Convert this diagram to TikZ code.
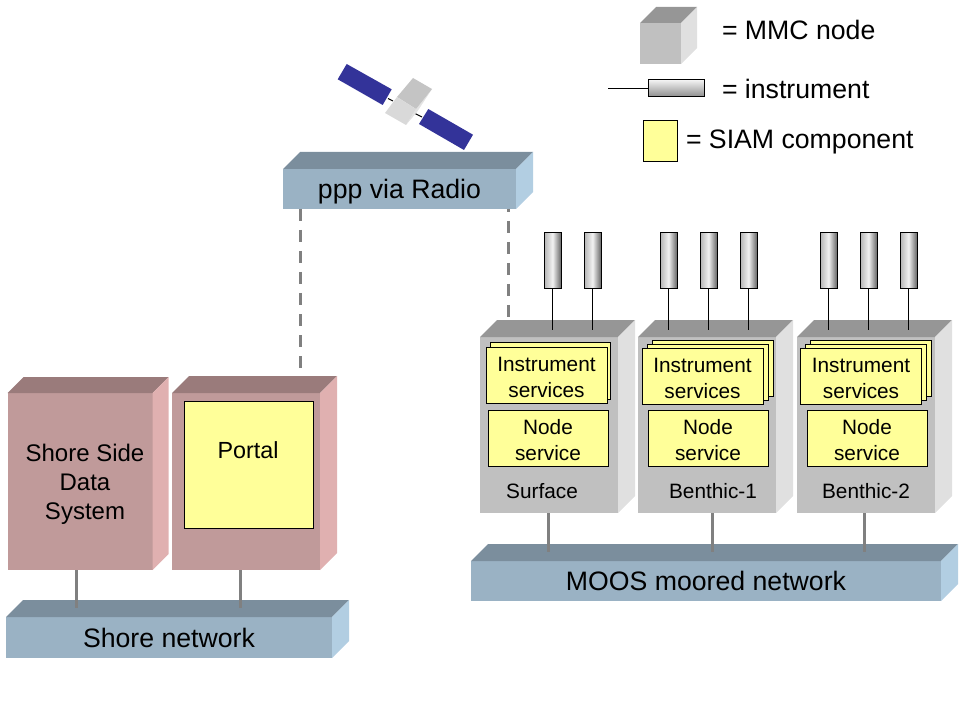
\documentclass[tikz,border=0pt]{standalone}
\usepackage{fontspec}
\setmainfont{Liberation Sans}
\usetikzlibrary{calc}

\definecolor{siamyellow}{HTML}{FFFF99}
\definecolor{mmcfront}{HTML}{C0C0C0}
\definecolor{mmctop}{HTML}{969696}
\definecolor{mmcside}{HTML}{E0E0E0}
\definecolor{shorefront}{HTML}{C09A9A}
\definecolor{shoretop}{HTML}{9A7B7B}
\definecolor{shoreside}{HTML}{E0B0B0}
\definecolor{netfront}{HTML}{9AB2C4}
\definecolor{nettop}{HTML}{7B8E9D}
\definecolor{netside}{HTML}{B2CEE2}
\definecolor{panelblue}{HTML}{333399}

\tikzset{
  size/.style n args={2}{minimum width=#1*0.75pt,minimum height=#2*0.75pt},
  every node/.style={inner sep=0pt,outer sep=0pt},
  mmcbox/.style={fill=mmcfront},
  shorebox/.style={fill=shorefront},
  netbox/.style={fill=netfront,text depth=0pt,font=\fontsize{20}{24}\selectfont},
  siam/.style={draw=black,line width=0.75pt,fill=siamyellow,align=center,
    font=\fontsize{15.6}{19.2}\selectfont},
  siamtext/.style={text height=33.4pt},
  label/.style={font=\fontsize{15.6}{19.2}\selectfont},
  legend/.style={anchor=west,font=\fontsize{20}{24}\selectfont},
  instr/.style={draw=black,line width=0.75pt,left color=gray!60,right color=gray!80!black,
    middle color=gray!10,size={17}{56}},
  wire/.style={black,line width=0.75pt},
  link/.style={color=gray,line width=2.25pt},
  radiolink/.style={color=gray,line width=2.25pt,dash pattern=on 9pt off 6.75pt},
}

% top and side faces behind a front node
\newcommand{\faces}[4]{
\fill [#3] (#1.north west) -- ++(#2,-#2) -- ($(#1.north east)+(#2,-#2)$) -- (#1.north east) -- cycle;
\fill [#4] (#1.north east) -- ++(#2,-#2) -- ($(#1.south east)+(#2,-#2)$) -- (#1.south east) -- cycle;
}

\begin{document}
\begin{tikzpicture}[x=0.75pt,y=-0.75pt]
\useasboundingbox (0,0) rectangle (960,720);

% legend
\node [mmcbox,size={41}{41}] (legendcube) at (660.5,43.5) {};
\faces{legendcube}{16}{mmctop}{mmcside}
\node [legend] (legendmmc) at (722,30) {= MMC node};
\node [draw=black,line width=0.75pt,top color=gray!10,bottom color=gray!90,size={56}{17}] (legendinstr) at (676,88.5) {};
\coordinate (legendwire) at (608,88.5);
\draw [wire] (legendwire) -- (legendinstr.west);
\node [legend] (legendinstrtext) at (722,89) {= instrument};
\node [siam,size={34}{41}] (legendsiam) at (660,141.5) {};
\node [legend] (legendsiamtext) at (686,142) {= SIAM component};

% satellite
\fill [panelblue] (346.7,64) -- (391.7,89.3) -- (382.7,105) -- (337.7,79.3) -- cycle;
\fill [panelblue] (428.3,109) -- (473,134.7) -- (464,150) -- (419,124) -- cycle;
\draw [wire] (388,98.5) -- (393,101);
\draw [wire] (415,113.5) -- (422,117);
\fill [gray!22] (432,89) -- (416,109) -- (406,125) -- (417,112) -- cycle;
\fill [gray!46] (413,78) -- (432,89) -- (416,109) -- (397,97) -- cycle;
\fill [gray!30] (397,97) -- (416,109) -- (406,125) -- (385,113) -- cycle;

% radio link
\node [netbox,size={233}{40}] (radio) at (399.5,189) {ppp via Radio};
\faces{radio}{17}{nettop}{netside}
\coordinate (portalup) at (300,369);
\coordinate (surfaceup) at (508,320);
\draw [radiolink] (radio.south -| portalup) -- (portalup);
\draw [radiolink,dash phase=6.75pt] (radio.south -| surfaceup) -- (surfaceup);

% shore side
\node [shorebox,size={145}{177}] (shoredata) at (80,481.5) {};
\faces{shoredata}{16}{shoretop}{shoreside}
\node [align=center,font=\fontsize{18}{21.75}\selectfont] (shoredatatext) at (85,484) {Shore Side\\Data\hspace*{6pt}\\System};
\node [shorebox,size={148}{177}] (portalbox) at (246,481.5) {};
\faces{portalbox}{17}{shoretop}{shoreside}
\node [siam,size={129}{127}] (portalsiam) at (248.5,464.5) {};
\node [font=\fontsize{17.5}{21}\selectfont] (portaltext) at (248,450) {Portal};
\node [netbox,size={326}{41}] (shorenet) at (169,637.5) {Shore network};
\faces{shorenet}{17}{nettop}{netside}
\coordinate (shorejackA) at (76,608);
\coordinate (shorejackB) at (240,608);
\draw [link] (shorejackA |- shoredata.south) -- (shorejackA);
\draw [link] (shorejackB |- portalbox.south) -- (shorejackB);

% moored network
\node [netbox,size={470}{40}] (moosnet) at (706,581) {MOOS moored network};
\faces{moosnet}{17}{nettop}{netside}

% surface node
\node [mmcbox,size={138}{176}] (surface) at (549,425) {};
\faces{surface}{17}{mmctop}{mmcside}
\node [siam,size={120}{57}] (surfaceback) at (550,370.5) {};
\node [siam,siamtext,size={121}{56}] (surfaceinst) at (546.5,375) {Instrument\\services};
\node [siam,siamtext,size={120}{56}] (surfacenode) at (548,438) {Node\\service};
\node [label] (surfacetext) at (542,491) {Surface};
\node [instr] (surfaceA) at (552.5,261) {};
\node [instr] (surfaceB) at (592.5,261) {};
\coordinate (surfacewireA) at (552.5,330);
\coordinate (surfacewireB) at (592.5,330);
\draw [wire] (surfaceA) -- (surfacewireA);
\draw [wire] (surfaceB) -- (surfacewireB);

% benthic 1 node
\node [mmcbox,size={138}{176}] (benthicone) at (707,425) {};
\faces{benthicone}{17}{mmctop}{mmcside}
\node [siam,size={121}{56}] (benthiconeback) at (712.5,368) {};
\node [siam,size={121}{56}] (benthiconemid) at (707.5,372) {};
\node [siam,siamtext,size={121}{56}] (benthiconeinst) at (702.5,376) {Instrument\\services};
\node [siam,siamtext,size={120}{56}] (benthiconenode) at (708,438) {Node\\service};
\node [label] (benthiconetext) at (713,491) {Benthic-1};
\node [instr] (benthiconeA) at (668.5,261) {};
\node [instr] (benthiconeB) at (708.5,261) {};
\node [instr] (benthiconeC) at (748.5,261) {};
\coordinate (benthiconewireA) at (668.5,330);
\coordinate (benthiconewireB) at (708.5,330);
\coordinate (benthiconewireC) at (748.5,330);
\draw [wire] (benthiconeA) -- (benthiconewireA);
\draw [wire] (benthiconeB) -- (benthiconewireB);
\draw [wire] (benthiconeC) -- (benthiconewireC);

% benthic 2 node
\node [mmcbox,size={138}{176}] (benthictwo) at (866,425) {};
\faces{benthictwo}{17}{mmctop}{mmcside}
\node [siam,size={121}{56}] (benthictwoback) at (871,368) {};
\node [siam,size={121}{56}] (benthictwomid) at (866,372) {};
\node [siam,siamtext,size={121}{56}] (benthictwoinst) at (861,376) {Instrument\\services};
\node [siam,siamtext,size={120}{56}] (benthictwonode) at (867,438) {Node\\service};
\node [label] (benthictwotext) at (866,491) {Benthic-2};
\node [instr] (benthictwoA) at (828.5,261) {};
\node [instr] (benthictwoB) at (868.5,261) {};
\node [instr] (benthictwoC) at (908.5,261) {};
\coordinate (benthictwowireA) at (828.5,330);
\coordinate (benthictwowireB) at (868.5,330);
\coordinate (benthictwowireC) at (908.5,330);
\draw [wire] (benthictwoA) -- (benthictwowireA);
\draw [wire] (benthictwoB) -- (benthictwowireB);
\draw [wire] (benthictwoC) -- (benthictwowireC);

% node to network
\coordinate (moosjackA) at (548,552);
\coordinate (moosjackB) at (712,552);
\coordinate (moosjackC) at (864,552);
\draw [link] (moosjackA |- surface.south) -- (moosjackA);
\draw [link] (moosjackB |- benthicone.south) -- (moosjackB);
\draw [link] (moosjackC |- benthictwo.south) -- (moosjackC);
\end{tikzpicture}
\end{document}
